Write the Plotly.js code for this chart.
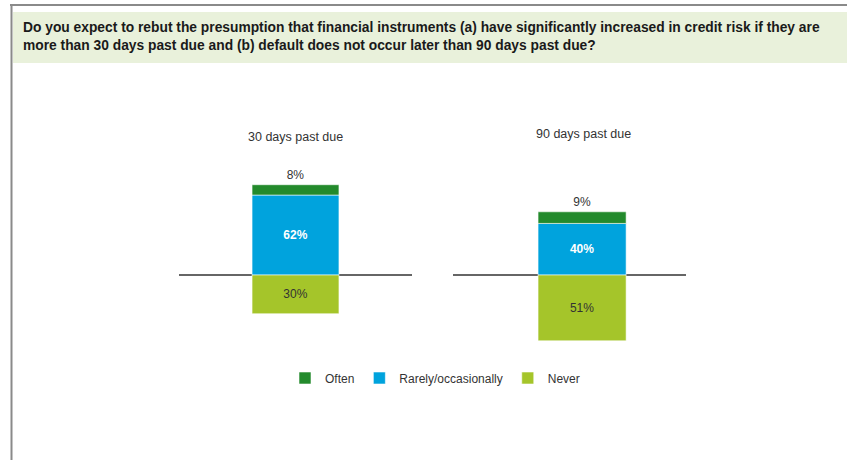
<!DOCTYPE html>
<html>
<head>
<meta charset="utf-8">
<script src="https://cdn.plot.ly/plotly-3.0.1.min.js"></script>
<style>html,body{margin:0;padding:0;background:#fff;}#chart{width:847px;height:460px;}</style>
</head>
<body>
<div id="chart"></div>
<script>
var panels = ["30 days past due", "90 days past due"];
var seriesNames = ["Rarely/occasionally", "Often", "Never"];
var often = [8, 9];
var rarely = [62, 40];
var never = [30, 51];
var titleText = "Do you expect to rebut the presumption that financial instruments (a) have significantly increased in credit risk if they are<br>more than 30 days past due and (b) default does not occur later than 90 days past due?";

var colors = {often: "#238a2c", rarely: "#00a3dd", never: "#a5c52a"};
var FONT = "Liberation Sans, Arial, sans-serif";
var W = 847, H = 460;
function px(x){ return x / W; }
function py(y){ return 1 - y / H; }

var traces = [];
var xa = ["x", "x2"], ya = ["y", "y2"];
for (var i = 0; i < panels.length; i++) {
  var show = (i === 0);
  var w = [i === 0 ? 0.373 : 0.378];
  traces.push({
    type: "bar", name: "Often", x: [panels[i]], y: [often[i]],
    xaxis: xa[i], yaxis: ya[i], width: w,
    marker: {color: colors.often, line: {color: "rgba(255,255,255,0.7)", width: 0.8}},
    text: [often[i] + "%"], textposition: "outside", cliponaxis: false,
    textfont: {family: FONT, size: 12, color: "#333"},
    showlegend: show, legendrank: 1, hoverinfo: "none"
  });
  traces.push({
    type: "bar", name: "Rarely/occasionally", x: [panels[i]], y: [rarely[i]],
    xaxis: xa[i], yaxis: ya[i], width: w,
    marker: {color: colors.rarely, line: {color: "rgba(255,255,255,0.7)", width: 0.8}},
    text: [rarely[i] + "%"], textposition: "inside", insidetextanchor: "middle",
    textfont: {family: FONT, size: 12, color: "#fff", weight: "bold"},
    showlegend: show, legendrank: 2, hoverinfo: "none"
  });
  traces.push({
    type: "bar", name: "Never", x: [panels[i]], y: [-never[i]],
    xaxis: xa[i], yaxis: ya[i], width: w,
    marker: {color: colors.never, line: {color: "rgba(255,255,255,0.7)", width: 0.8}},
    text: [never[i] + "%"], textposition: "inside", insidetextanchor: "middle",
    textfont: {family: FONT, size: 12, color: "#333"},
    showlegend: show, legendrank: 3, hoverinfo: "none"
  });
}
// stack order: Rarely at the base, Often on top
traces.sort(function(a, b){
  var order = {"Rarely/occasionally": 0, "Often": 1, "Never": 2};
  return order[a.name] - order[b.name];
});

var yr = [-143.4, 213.2];
var yBase = {range: yr, domain: [0, 1], visible: true, showgrid: false, showticklabels: false,
  ticks: "", showline: false, zeroline: true, zerolinecolor: "#666", zerolinewidth: 1.5, fixedrange: true};

var layout = {
  width: W, height: H,
  margin: {l: 0, r: 0, t: 0, b: 0},
  paper_bgcolor: "#fff", plot_bgcolor: "rgba(0,0,0,0)",
  barmode: "relative",
  font: {family: FONT, size: 12, color: "#333"},
  xaxis: {domain: [px(179), px(412)], range: [-0.5, 0.5], visible: false, fixedrange: true},
  xaxis2: {domain: [px(453), px(686)], range: [-0.554, 0.446], visible: false, fixedrange: true},
  yaxis: Object.assign({anchor: "x"}, yBase),
  yaxis2: Object.assign({anchor: "x2"}, yBase),
  legend: {
    orientation: "h", x: px(285), xanchor: "left", y: py(378), yanchor: "middle",
    font: {family: FONT, size: 12, color: "#333"}, traceorder: "normal",
    bgcolor: "rgba(0,0,0,0)", itemclick: false, itemdoubleclick: false
  },
  showlegend: true,
  annotations: [
    {text: titleText, xref: "paper", x: px(21), xanchor: "left", align: "left",
     yref: "paper", y: py(18), yanchor: "top", showarrow: false,
     font: {family: FONT, size: 13.8, color: "#1a1a1a", weight: "bold"}},
    {text: panels[0], xref: "x", x: panels[0], yref: "paper", y: py(137), yanchor: "middle",
     showarrow: false, font: {family: FONT, size: 12.5, color: "#333"}},
    {text: panels[1], xref: "x2", x: panels[1], xshift: 1, yref: "paper", y: py(134), yanchor: "middle",
     showarrow: false, font: {family: FONT, size: 12.5, color: "#333"}}
  ],
  shapes: [
    {type: "rect", xref: "paper", yref: "paper", x0: px(13), x1: 1, y0: py(63), y1: py(12),
     fillcolor: "#e9f1db", line: {width: 0}, layer: "below"},
    {type: "line", xref: "paper", yref: "paper", x0: px(10), x1: 1, y0: py(5), y1: py(5),
     line: {color: "#8a8a8a", width: 2}},
    {type: "line", xref: "paper", yref: "paper", x0: px(11.5), x1: px(11.5), y0: py(4), y1: 0,
     line: {color: "#8a8a8a", width: 2}}
  ]
};

Plotly.newPlot("chart", traces, layout, {displayModeBar: false, staticPlot: true});
</script>
</body>
</html>
